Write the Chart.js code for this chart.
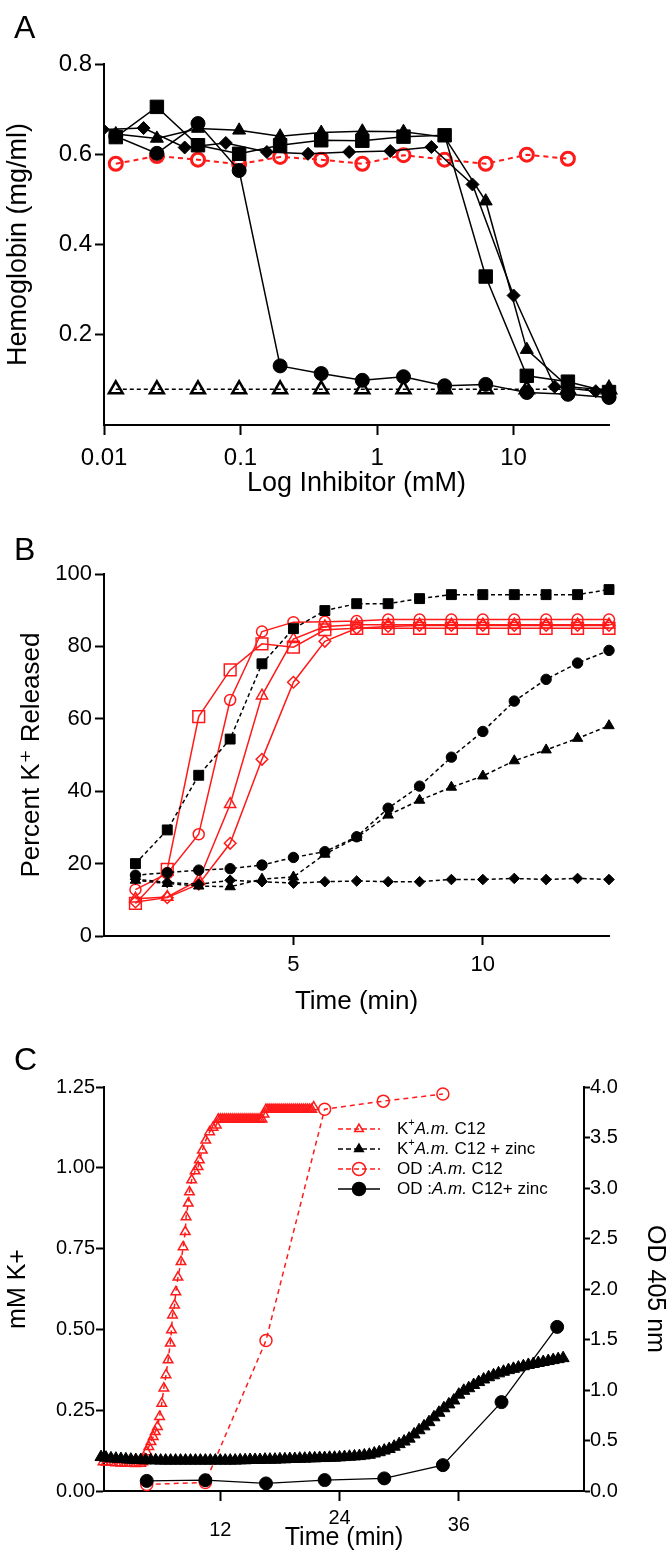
<!DOCTYPE html>
<html>
<head>
<meta charset="utf-8">
<script src="https://cdn.jsdelivr.net/npm/chart.js@4.4.1/dist/chart.umd.min.js"></script>
<style>
  html, body { margin: 0; padding: 0; background: #fff; }
  #page { position: relative; width: 672px; height: 1561px; overflow: hidden; }
  canvas { position: absolute; left: 0; }
  .panel-letter { position: absolute; left: 14px; font-size: 32px; line-height: 1; color: #000;
                  font-family: 'Liberation Sans', Arial, sans-serif; }
</style>
</head>
<body>
<div id="page">
  <canvas id="chartA" width="672" height="510" style="top:0"></canvas>
  <canvas id="chartB" width="672" height="520" style="top:510px"></canvas>
  <canvas id="chartC" width="672" height="521" style="top:1040px"></canvas>
  <div class="panel-letter" style="top:11px">A</div>
  <div class="panel-letter" style="top:533px">B</div>
  <div class="panel-letter" style="top:1043px">C</div>
</div>
<script>
// ---- panel A: hemoglobin vs inhibitor ----
const inhibitorConc = [0.0122, 0.0244, 0.0488, 0.0977, 0.195, 0.39, 0.78, 1.5625, 3.125, 6.25, 12.5, 25, 50];
const inhibitorConcAlt = [0.0098, 0.0195, 0.039, 0.078, 0.156, 0.3125, 0.625, 1.25, 2.5, 5, 10, 20, 40];
const hbSquares = [0.638, 0.705, 0.620, 0.601, 0.620, 0.631, 0.630, 0.639, 0.642, 0.329, 0.109, 0.096, 0.073];
const hbCircles = [0.640, 0.602, 0.668, 0.564, 0.131, 0.114, 0.099, 0.107, 0.087, 0.090, 0.072, 0.068, 0.061];
const hbTriangles = [0.645, 0.635, 0.657, 0.653, 0.640, 0.648, 0.651, 0.650, 0.638, 0.496, 0.167, 0.085, 0.077];
const hbDiamonds = [0.655, 0.658, 0.615, 0.625, 0.605, 0.601, 0.605, 0.607, 0.616, 0.533, 0.287, 0.085, 0.075];
const hbRedCircles = [0.579, 0.596, 0.588, 0.578, 0.594, 0.588, 0.579, 0.598, 0.588, 0.579, 0.599, 0.590];
const hbOpenTriangles = [0.079, 0.079, 0.079, 0.079, 0.079, 0.079, 0.079, 0.079, 0.079, 0.079, 0.079, 0.079, 0.079];
const concTicks = [0.01, 0.1, 1, 10];
const hbTicks = [0.2, 0.4, 0.6, 0.8];

// ---- panel B: percent K+ released over time ----
const releaseTime = [0.83, 1.67, 2.5, 3.33, 4.17, 5, 5.83, 6.67, 7.5, 8.33, 9.17, 10, 10.83, 11.67, 12.5, 13.33];
const kBlackSquares = [20.0, 29.3, 44.4, 54.4, 75.2, 84.9, 89.9, 91.8, 91.8, 93.2, 94.3, 94.3, 94.3, 94.3, 94.3, 95.7];
const kBlackCircles = [16.8, 17.5, 18.2, 18.6, 19.6, 21.7, 23.3, 27.4, 35.3, 41.4, 49.4, 56.5, 64.9, 70.9, 75.4, 78.9];
const kBlackTriangles = [15.4, 14.5, 13.8, 13.6, 15.7, 16.3, 22.6, 27.2, 33.4, 37.5, 41.1, 44.2, 48.4, 51.4, 54.6, 58.1];
const kBlackDiamonds = [15.7, 14.8, 14.3, 15.4, 15.0, 14.6, 15.0, 15.2, 15.0, 15.0, 15.6, 15.6, 15.9, 15.6, 15.9, 15.6];
const kRedSquares = [9.0, 18.4, 60.6, 73.5, 80.7, 79.8, 84.6, 85.0, 85.0, 85.0, 85.0, 85.0, 85.0, 85.0, 85.0, 85.0];
const kRedCircles = [12.8, 17.3, 28.1, 65.2, 84.1, 86.7, 86.8, 87.0, 87.4, 87.4, 87.4, 87.4, 87.4, 87.4, 87.4, 87.4];
const kRedTriangles = [10.3, 10.8, 15.4, 36.4, 66.4, 82.0, 85.5, 86.0, 86.0, 86.0, 86.0, 86.0, 86.0, 86.0, 86.0, 86.0];
const kRedDiamonds = [9.4, 10.6, 14.3, 25.6, 48.8, 70.1, 81.4, 85.0, 85.5, 85.8, 85.8, 85.8, 85.8, 85.8, 85.8, 85.8];
const timeTicksB = [5, 10];

// ---- panel C: K+ (left axis) and OD 405 (right axis) ----
const kTimeNoZinc = [0.2, 0.5, 1.0, 1.5, 2.0, 2.5, 3.0, 3.5, 4.0, 4.2, 4.4, 4.6,
  4.81, 5.03, 5.25, 5.46, 5.68, 5.89, 6.11, 6.32, 6.54, 6.75, 6.97, 7.09, 7.19, 7.4, 7.53, 7.74,
  8.05, 8.26, 8.48, 8.56, 8.78, 8.9, 9.12, 9.47, 9.77, 9.9, 10.2, 10.54, 10.93, 11.27, 11.6,
  11.8, 12.0, 12.2, 12.4, 12.6, 12.8, 13.0, 13.2, 13.4, 13.6, 13.8, 14.0, 14.2, 14.4, 14.6, 14.8, 15.0, 15.2, 15.4, 15.6, 15.8, 16.0, 16.2,
  16.4,
  16.6, 16.8, 17.0, 17.2, 17.4, 17.6, 17.8, 18.0, 18.2, 18.4, 18.6, 18.8, 19.0, 19.2, 19.4, 19.6, 19.8, 20.0, 20.2, 20.4, 20.6, 20.8, 21.0, 21.2, 21.4];
const kNoZinc = [0.090, 0.089, 0.088, 0.087, 0.086, 0.085, 0.085, 0.084, 0.085, 0.090, 0.100, 0.121,
  0.137, 0.152, 0.168, 0.183, 0.199, 0.230, 0.271, 0.318, 0.359, 0.405, 0.457, 0.498, 0.544, 0.575, 0.616, 0.661,
  0.709, 0.755, 0.802, 0.848, 0.890, 0.925, 0.962, 0.990, 1.003, 1.024, 1.054, 1.085, 1.111, 1.125, 1.132,
  1.150, 1.150, 1.150, 1.150, 1.150, 1.150, 1.150, 1.150, 1.150, 1.150, 1.150, 1.150, 1.150, 1.150, 1.150, 1.150, 1.150, 1.150, 1.150, 1.150, 1.150, 1.150, 1.150,
  1.166,
  1.180, 1.180, 1.180, 1.180, 1.180, 1.180, 1.180, 1.180, 1.180, 1.180, 1.180, 1.180, 1.180, 1.180, 1.180, 1.180, 1.180, 1.180, 1.180, 1.180, 1.180, 1.180, 1.180, 1.180, 1.188];
const kTimeZinc = [0, 0.5, 1, 1.5, 2, 2.5, 3, 3.5, 4, 4.5, 5, 5.5, 6, 6.5, 7, 7.5, 8, 8.5, 9, 9.5,
  10, 10.5, 11, 11.5, 12, 12.5, 13, 13.5, 14, 14.5, 15, 15.5, 16, 16.5, 17, 17.5, 18, 18.5, 19, 19.5,
  20, 20.5, 21, 21.5, 22, 22.5, 23, 23.5, 24, 24.5, 25, 25.5, 26, 26.5, 27, 27.5, 28, 28.5, 29, 29.5,
  30, 30.5, 31, 31.5, 32, 32.5, 33, 33.5, 34, 34.5, 35, 35.5, 36, 36.5, 37, 37.5, 38, 38.5, 39, 39.5,
  40, 40.5, 41, 41.5, 42, 42.5, 43, 43.5, 44, 44.5, 45, 45.5, 46, 46.5];
const kZinc = [0.105, 0.103, 0.101, 0.100, 0.099, 0.098, 0.097, 0.096, 0.096, 0.095, 0.095, 0.095, 0.094, 0.094, 0.094, 0.094, 0.094, 0.094, 0.094, 0.094,
  0.094, 0.094, 0.094, 0.094, 0.094, 0.094, 0.094, 0.094, 0.095, 0.095, 0.096, 0.096, 0.096, 0.097, 0.097, 0.097, 0.098, 0.098, 0.099, 0.099,
  0.100, 0.100, 0.101, 0.101, 0.102, 0.102, 0.103, 0.103, 0.104, 0.105, 0.106, 0.107, 0.108, 0.110, 0.112, 0.116, 0.120, 0.125, 0.130, 0.137,
  0.145, 0.153, 0.162, 0.175, 0.188, 0.200, 0.213, 0.228, 0.242, 0.256, 0.268, 0.280, 0.298, 0.310, 0.318, 0.328, 0.337, 0.345, 0.352, 0.358,
  0.364, 0.369, 0.374, 0.378, 0.382, 0.386, 0.390, 0.393, 0.396, 0.399, 0.402, 0.405, 0.408, 0.411];
const odTimeNoZinc = [4.6, 10.5, 16.6, 22.5, 28.4, 34.4];
const odNoZinc = [0.065, 0.085, 1.49, 3.78, 3.86, 3.93];
const odTimeZinc = [4.6, 10.5, 16.6, 22.5, 28.5, 34.4, 40.3, 45.9];
const odZinc = [0.100, 0.107, 0.075, 0.108, 0.125, 0.256, 0.880, 1.625];
const timeTicksC = [12, 24, 36];
const legendLabelsC = [
  [{ t: 'K' }, { t: '+', sup: true }, { t: 'A.m.', it: true }, { t: ' C12' }],
  [{ t: 'K' }, { t: '+', sup: true }, { t: 'A.m.', it: true }, { t: ' C12 + zinc' }],
  [{ t: 'OD :' }, { t: 'A.m.', it: true }, { t: ' C12' }],
  [{ t: 'OD :' }, { t: 'A.m.', it: true }, { t: ' C12+ zinc' }]
];

const FONT = "'Liberation Sans', Arial, 'DejaVu Sans', sans-serif";
const RED = '#ff1a1a';
Chart.defaults.font.family = FONT;
Chart.defaults.color = '#000';

function pts(xs, ys) { return ys.map((y, i) => ({ x: xs[i], y: y })); }

function makeSet(label, xs, ys, o) {
  return {
    label: label,
    data: pts(xs, ys),
    borderColor: o.color,
    borderWidth: o.lineWidth || 1.5,
    borderDash: o.dash || [],
    pointStyle: o.style,
    pointRadius: o.r,
    pointBorderColor: o.color,
    pointBackgroundColor: o.open ? 'rgba(0,0,0,0)' : o.color,
    pointBorderWidth: o.pw || 1,
    fill: false,
    tension: 0,
    clip: o.clip !== undefined ? o.clip : false,
    order: o.order || 0,
    yAxisID: o.axis || 'y'
  };
}

function grid(len) {
  return { display: true, drawOnChartArea: false, drawTicks: true, tickLength: len, tickColor: '#000', tickWidth: 2 };
}
const border = { display: true, color: '#000', width: 2 };
const fixedTicks = list => scale => { scale.ticks = list.map(v => ({ value: v })); };
// panel A clips only at the left axis, the lowest dilution sits just behind it
const clipLeft = { left: 0, top: false, right: false, bottom: false };

const baseOptions = {
  responsive: false,
  animation: false,
  devicePixelRatio: 1,
  events: [],
  plugins: { legend: { display: false }, tooltip: { enabled: false } }
};

// Panel A
new Chart(document.getElementById('chartA'), {
  type: 'line',
  data: {
    datasets: [
      makeSet('squares', inhibitorConc, hbSquares, { color: '#000', style: 'rect', r: 9.5, clip: clipLeft }),
      makeSet('circles', inhibitorConc, hbCircles, { color: '#000', style: 'circle', r: 7, clip: clipLeft }),
      makeSet('triangles', inhibitorConc, hbTriangles, { color: '#000', style: 'triangle', r: 7.5, clip: clipLeft }),
      makeSet('diamonds', inhibitorConcAlt, hbDiamonds, { color: '#000', style: 'rectRot', r: 6.5, clip: clipLeft }),
      makeSet('control', inhibitorConc, hbRedCircles, { color: RED, style: 'circle', r: 6.5, open: true, pw: 3, dash: [5, 4], lineWidth: 2, order: 1, clip: clipLeft }),
      makeSet('blank', inhibitorConc, hbOpenTriangles, { color: '#000', style: 'triangle', r: 8, open: true, pw: 2.5, dash: [4, 3], lineWidth: 1.5, order: 2, clip: clipLeft })
    ]
  },
  options: Object.assign({}, baseOptions, {
    layout: { padding: { top: 64, right: 63, left: 0, bottom: 0 } },
    scales: {
      x: {
        type: 'logarithmic', min: 0.01, max: 50,
        afterBuildTicks: fixedTicks(concTicks),
        afterFit: s => { s.height = 85; },
        ticks: { callback: v => String(v), font: { size: 24 }, color: '#000', padding: 8.6, maxRotation: 0, autoSkip: false },
        grid: grid(10), border: border,
        title: { display: true, text: 'Log Inhibitor (mM)', font: { size: 27 }, color: '#000', padding: { top: 0, bottom: 9.8 } }
      },
      y: {
        min: 0, max: 0.8,
        afterBuildTicks: fixedTicks(hbTicks),
        afterFit: s => { s.width = 104; },
        ticks: { callback: v => v.toFixed(1), font: { size: 24 }, color: '#000', padding: 3 },
        grid: grid(9), border: border,
        title: { display: true, text: 'Hemoglobin (mg/ml)', font: { size: 27 }, color: '#000', padding: { top: 2, bottom: 0 } }
      }
    }
  })
});

// Panel B
new Chart(document.getElementById('chartB'), {
  type: 'line',
  data: {
    datasets: [
      makeSet('black squares', releaseTime, kBlackSquares, { color: '#000', style: 'rect', r: 7, dash: [4, 3] }),
      makeSet('black circles', releaseTime, kBlackCircles, { color: '#000', style: 'circle', r: 5.2, dash: [4, 3] }),
      makeSet('black triangles', releaseTime, kBlackTriangles, { color: '#000', style: 'triangle', r: 6, dash: [4, 3] }),
      makeSet('black diamonds', releaseTime, kBlackDiamonds, { color: '#000', style: 'rectRot', r: 5.3, dash: [4, 3] }),
      makeSet('red squares', releaseTime, kRedSquares, { color: RED, style: 'rect', r: 8.3, open: true, pw: 1.5, order: 1 }),
      makeSet('red circles', releaseTime, kRedCircles, { color: RED, style: 'circle', r: 5.5, open: true, pw: 1.5, order: 1 }),
      makeSet('red triangles', releaseTime, kRedTriangles, { color: RED, style: 'triangle', r: 6.5, open: true, pw: 1.5, order: 1 }),
      makeSet('red diamonds', releaseTime, kRedDiamonds, { color: RED, style: 'rectRot', r: 5.8, open: true, pw: 1.5, order: 1 })
    ]
  },
  options: Object.assign({}, baseOptions, {
    layout: { padding: { top: 64, right: 63, left: 0, bottom: 0 } },
    scales: {
      x: {
        type: 'linear', min: 0, max: 13.33,
        afterBuildTicks: fixedTicks(timeTicksB),
        afterFit: s => { s.height = 94; },
        ticks: { callback: v => String(v), font: { size: 22 }, color: '#000', padding: 6.8, maxRotation: 0 },
        grid: grid(9), border: border,
        title: { display: true, text: 'Time (min)', font: { size: 26 }, color: '#000', padding: { top: 0, bottom: 12.4 } }
      },
      y: {
        min: 0, max: 100,
        ticks: { stepSize: 20, font: { size: 22 }, color: '#000', padding: 3 },
        afterFit: s => { s.width = 104; },
        grid: grid(9), border: border,
        title: { display: true, text: 'Percent K\u207A Released', font: { size: 26 }, color: '#000', padding: { top: 16, bottom: 0 } }
      }
    }
  })
});

// Panel C helpers: staggered time labels and the inline legend
const tickDropC = [39, 27, 34];
const staggerTicks = {
  id: 'staggerTicks',
  afterDraw(chart) {
    const ctx = chart.ctx, xs = chart.scales.x;
    ctx.save();
    ctx.font = '20px ' + FONT;
    ctx.fillStyle = '#000';
    ctx.textAlign = 'center';
    ctx.textBaseline = 'middle';
    timeTicksC.forEach((v, i) => ctx.fillText(String(v), xs.getPixelForValue(v), chart.chartArea.bottom + tickDropC[i]));
    ctx.restore();
  }
};

const legendStyleC = [
  { color: RED, dash: [5, 3], style: 'triangle', r: 5, open: true },
  { color: '#000', dash: [5, 3], style: 'triangle', r: 5, open: false },
  { color: RED, dash: [5, 3], style: 'circle', r: 6.5, open: true },
  { color: '#000', dash: [], style: 'circle', r: 6.5, open: false }
];
const legendC = {
  id: 'legendC',
  afterDraw(chart) {
    const ctx = chart.ctx;
    const x0 = 338, x1 = 380, xm = 359, xt = 397, top = 89, gap = 20;
    ctx.save();
    legendStyleC.forEach((st, i) => {
      const y = top + i * gap;
      ctx.strokeStyle = st.color;
      ctx.lineWidth = 1.5;
      ctx.setLineDash(st.dash);
      ctx.beginPath(); ctx.moveTo(x0, y); ctx.lineTo(x1, y); ctx.stroke();
      ctx.setLineDash([]);
      ctx.fillStyle = st.open ? 'rgba(0,0,0,0)' : st.color;
      Chart.helpers.drawPoint(ctx, { pointStyle: st.style, radius: st.r, rotation: 0, borderWidth: 1.5 }, xm, y);
      let x = xt;
      ctx.fillStyle = '#000';
      ctx.textAlign = 'left';
      ctx.textBaseline = 'middle';
      legendLabelsC[i].forEach(seg => {
        ctx.font = (seg.it ? 'italic ' : '') + (seg.sup ? '11px ' : '17px ') + FONT;
        ctx.fillText(seg.t, x, seg.sup ? y - 6 : y);
        x += ctx.measureText(seg.t).width;
      });
    });
    ctx.restore();
  }
};

// Panel C
new Chart(document.getElementById('chartC'), {
  type: 'line',
  data: {
    datasets: [
      makeSet('OD: A.m. C12 + zinc', odTimeZinc, odZinc, { color: '#000', style: 'circle', r: 6.5, lineWidth: 1.3, axis: 'yR', order: 0 }),
      makeSet('K+ A.m. C12 + zinc', kTimeZinc, kZinc, { color: '#000', style: 'triangle', r: 7, dash: [5, 3], order: 1 }),
      makeSet('OD: A.m. C12', odTimeNoZinc, odNoZinc, { color: RED, style: 'circle', r: 6, open: true, pw: 1.5, dash: [5, 4], axis: 'yR', order: 2 }),
      makeSet('K+ A.m. C12', kTimeNoZinc, kNoZinc, { color: RED, style: 'triangle', r: 5.5, open: true, pw: 1.5, dash: [5, 4], order: 3 })
    ]
  },
  options: Object.assign({}, baseOptions, {
    layout: { padding: { top: 47, right: 0, left: 0, bottom: 0 } },
    scales: {
      x: {
        type: 'linear', min: 0.3, max: 48.6,
        afterBuildTicks: fixedTicks(timeTicksC),
        afterFit: s => { s.height = 70; },
        ticks: { display: false },
        grid: grid(10), border: border,
        title: { display: true, text: 'Time (min)', font: { size: 25 }, color: '#000', padding: { top: 0, bottom: 8 } }
      },
      y: {
        position: 'left', min: 0, max: 1.25,
        ticks: { stepSize: 0.25, callback: v => v.toFixed(2), font: { size: 20 }, color: '#000', padding: 1 },
        afterFit: s => { s.width = 104; },
        grid: grid(8), border: border,
        title: { display: true, text: 'mM K+', font: { size: 25 }, color: '#000', padding: { top: 3, bottom: 0 } }
      },
      yR: {
        position: 'right', min: 0, max: 4,
        ticks: { stepSize: 0.5, callback: v => v.toFixed(1), font: { size: 20 }, color: '#000', padding: 0 },
        afterFit: s => { s.width = 88; },
        grid: grid(6), border: border,
        title: { display: true, text: 'OD 405 nm', font: { size: 25 }, color: '#000', padding: { top: 2, bottom: 0 } }
      }
    }
  }),
  plugins: [staggerTicks, legendC]
});
</script>
</body>
</html>
